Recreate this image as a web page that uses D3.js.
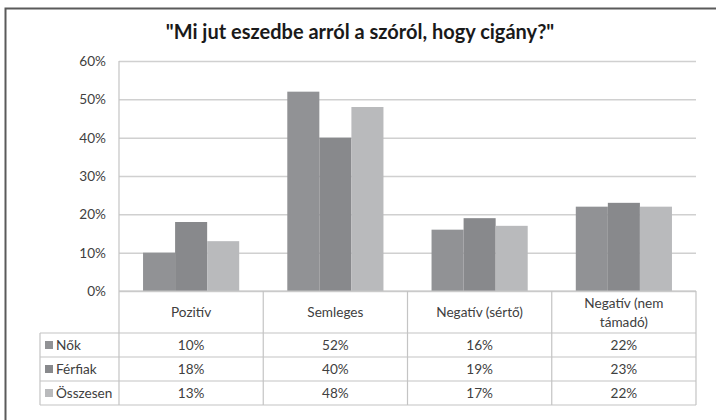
<!DOCTYPE html>
<html>
<head>
<meta charset="utf-8">
<script src="https://cdn.jsdelivr.net/npm/d3@7"></script>
<style>
  body { margin: 0; background: #fff; }
  svg text { font-family: Lato, "Open Sans", sans-serif; fill: #404040; }
</style>
</head>
<body>
<div id="chart"></div>
<script>
const title = '"Mi jut eszedbe arról a szóról, hogy cigány?"';
const categories = ["Pozitív", "Semleges", "Negatív (sértő)", "Negatív (nem támadó)"];
const categoryLines = [["Pozitív"], ["Semleges"], ["Negatív (sértő)"], ["Negatív (nem", "támadó)"]];
const seriesNames = ["Nők", "Férfiak", "Összesen"];
const nok = [0.10, 0.52, 0.16, 0.22];
const ferfiak = [0.18, 0.40, 0.19, 0.23];
const osszesen = [0.13, 0.48, 0.17, 0.22];
const yTicks = [0, 0.1, 0.2, 0.3, 0.4, 0.5, 0.6];
const colors = ["#919295", "#88898c", "#b9babc"];

const seriesValues = [nok, ferfiak, osszesen];

const W = 716;
const H = 420;
const plotL = 119, plotR = 696, plotT = 61, plotB = 291;
const legendLeft = 40;
const headerBottom = 333;
const rowH = 24;
const fs = 13.6;

const svg = d3.select("#chart")
    .append("svg")
    .attr("width", W)
    .attr("height", H);

svg.append("rect").attr("width", W).attr("height", H).attr("fill", "#fff");

// frame (cropped: only top and left edges visible)
svg.append("path")
    .attr("d", `M5.5,${H} V8.5 H${W}`)
    .attr("fill", "none")
    .attr("stroke", "#5a5a5a")
    .attr("stroke-width", 2);

svg.append("text")
    .attr("x", 360)
    .attr("y", 39)
    .attr("text-anchor", "middle")
    .attr("font-size", 20)
    .attr("font-weight", "bold")
    .style("fill", "#1a1a1a")
    .text(title);

const x0 = d3.scaleBand()
    .domain(categories)
    .range([plotL, plotR])
    .padding(0);

const x1 = d3.scaleBand()
    .domain(seriesNames)
    .range([0, x0.bandwidth()])
    .paddingInner(0)
    .paddingOuter(0.75);

const y = d3.scaleLinear()
    .domain([0, 0.6])
    .range([plotB, plotT]);

// gridlines + y labels
const yAxis = d3.axisLeft(y)
    .tickValues(yTicks)
    .tickFormat(d3.format(".0%"))
    .tickSize(-(plotR - plotL))
    .tickPadding(13);

const yg = svg.append("g")
    .attr("transform", `translate(${plotL},0)`)
    .call(yAxis);
yg.select(".domain").remove();
yg.selectAll(".tick line").attr("stroke", "#d0d0d0").attr("stroke-width", 1.5);
yg.selectAll(".tick text")
    .attr("font-size", fs)
    .attr("font-family", "Lato, sans-serif")
    .style("fill", "#404040");

// bars
const groups = svg.append("g")
    .selectAll("g")
    .data(categories)
    .join("g")
    .attr("transform", d => `translate(${x0(d)},0)`);

groups.selectAll("rect")
    .data((d, i) => seriesNames.map((s, j) => ({ s, v: seriesValues[j][i], j })))
    .join("rect")
    .attr("x", d => x1(d.s))
    .attr("y", d => y(d.v))
    .attr("width", x1.bandwidth())
    .attr("height", d => plotB - y(d.v))
    .attr("fill", d => colors[d.j]);

// table
const lineColor = "#c4c4c4";
const tbl = svg.append("g").attr("stroke", lineColor).attr("stroke-width", 1.2);

// plot left axis line
tbl.append("line").attr("x1", plotL).attr("x2", plotL).attr("y1", plotT).attr("y2", plotB);

// horizontal lines
tbl.append("line").attr("x1", plotL).attr("x2", plotR).attr("y1", plotB).attr("y2", plotB);
d3.range(seriesNames.length + 1).forEach(i => {
    const yy = headerBottom + i * rowH;
    tbl.append("line").attr("x1", legendLeft).attr("x2", plotR).attr("y1", yy).attr("y2", yy);
});
const tableBottom = headerBottom + seriesNames.length * rowH;

// vertical lines
categories.forEach(c => {
    tbl.append("line").attr("x1", x0(c)).attr("x2", x0(c)).attr("y1", plotB).attr("y2", tableBottom);
});
tbl.append("line").attr("x1", plotR).attr("x2", plotR).attr("y1", plotB).attr("y2", tableBottom);
tbl.append("line").attr("x1", legendLeft).attr("x2", legendLeft).attr("y1", headerBottom).attr("y2", tableBottom);

// header labels
categories.forEach((c, i) => {
    const lines = categoryLines[i];
    const cy = (plotB + headerBottom) / 2;
    const t = svg.append("text")
        .attr("x", x0(c) + x0.bandwidth() / 2)
        .attr("text-anchor", "middle")
        .attr("font-size", fs);
    lines.forEach((l, k) => {
        t.append("tspan")
            .attr("x", x0(c) + x0.bandwidth() / 2)
            .attr("y", cy + 5 + (k - (lines.length - 1) / 2) * 19)
            .text(l);
    });
});

// rows
seriesNames.forEach((s, j) => {
    const yy = headerBottom + j * rowH;
    svg.append("rect")
        .attr("x", legendLeft + 5)
        .attr("y", yy + rowH / 2 - 4)
        .attr("width", 8)
        .attr("height", 8)
        .attr("fill", colors[j]);
    svg.append("text")
        .attr("x", legendLeft + 16)
        .attr("y", yy + rowH / 2 + 5)
        .attr("font-size", fs)
        .text(s);
    categories.forEach((c, i) => {
        svg.append("text")
            .attr("x", x0(c) + x0.bandwidth() / 2)
            .attr("y", yy + rowH / 2 + 5)
            .attr("text-anchor", "middle")
            .attr("font-size", fs)
            .text(d3.format(".0%")(seriesValues[j][i]));
    });
});
</script>
</body>
</html>
